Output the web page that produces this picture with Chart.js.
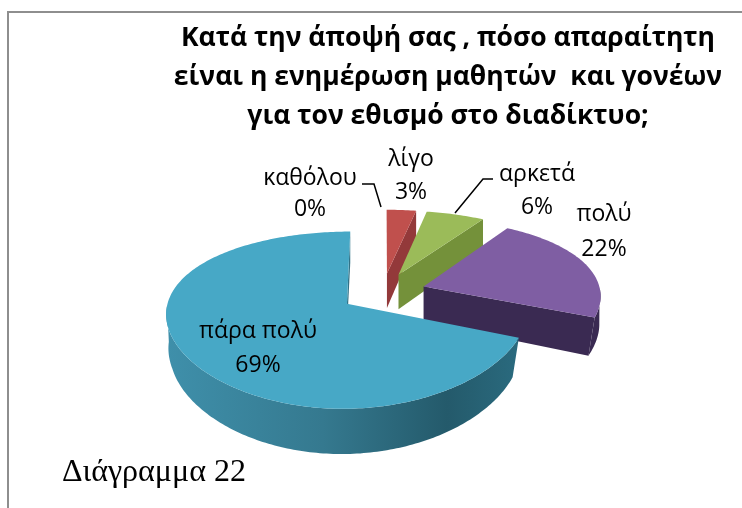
<!DOCTYPE html>
<html>
<head>
  <title>Διάγραμμα 22</title>
  <script src="https://cdn.jsdelivr.net/npm/chart.js"></script>
  <style>
    body { margin: 0; background: #fff; }
    #chart-container { position: absolute; left: 0; top: 0; width: 742px; height: 508px; }
    #frame { position: absolute; left: 7px; top: 11px; right: 0; bottom: 0; border-left: 2px solid #8e8e8e; border-top: 2px solid #8e8e8e; }
    #caption { position: absolute; left: 62px; top: 452px; font: 32px "Liberation Serif", serif; color: #000; }
  </style>
</head>
<body>
  <div id="frame"></div>
  <div id="chart-container"><canvas id="myChart" width="742" height="508"></canvas></div>
  <div id="caption">Διάγραμμα 22</div>
  <script>
    const categories = ['καθόλου', 'λίγο', 'αρκετά', 'πολύ', 'πάρα πολύ'];
    const values = [0, 3, 6, 22, 69];
    const titleLines = ['Κατά την άποψή σας , πόσο απαραίτητη', 'είναι η ενημέρωση μαθητών  και γονέων', 'για τον εθισμό στο διαδίκτυο;'];
    const topColors = ['#7f7f7f', '#c0504d', '#9bbb59', '#7f5ea3', '#47a8c6'];
    const sideColors = ['#7f7f7f', '#93393a', '#74913a', '#3a2a52', '#2f7387'];
    const labelPos = [[310, 178, 209], [411, 159, 192], [537, 174, 207], [604, 214, 249], [258, 331, 365]];

    // fake 3D: the arcs come from chart.js, only the projection is ours
    const perspX = 0.1, perspY = 0.18, tilt = 0.46, depth = 36, shrink = 0.028, vanishX = 295;

    function project(arc, u, w, drop) {
      const sx = 1 / (1 + perspX * w), sy = 1 / (1 + perspY * w);
      let x = arc.x + arc.outerRadius * u * sx;
      // the near part of the lower face pulls in towards the vanishing point
      const near = Math.min(1, Math.max(0, 0.15 - 2 * w));
      x += (vanishX - x) * shrink * near * drop / depth;
      return {
        x: x,
        y: arc.y - tilt * arc.outerRadius * w * sy + drop * sy
      };
    }

    function slicePoints(arc) {
      const mid = (arc.startAngle + arc.endAngle) / 2;
      const off = arc.options.offset / arc.outerRadius;
      const u0 = off * Math.cos(mid), w0 = -off * Math.sin(mid);
      const rim = [], front = [];
      const n = Math.max(2, Math.ceil((arc.endAngle - arc.startAngle) / (Math.PI / 180)));
      for (let i = 0; i <= n; i++) {
        const a = arc.startAngle + (arc.endAngle - arc.startAngle) * i / n;
        const p = [u0 + Math.cos(a), w0 - Math.sin(a)];
        rim.push(p);
        // only the near half of the rim shows a wall
        if (Math.sin(a) >= 0) front.push(p);
      }
      return { apex: [u0, w0], rim, front };
    }

    function fillPoly(ctx, pts, color) {
      ctx.beginPath();
      pts.forEach((p, i) => i ? ctx.lineTo(p.x, p.y) : ctx.moveTo(p.x, p.y));
      ctx.closePath();
      ctx.fillStyle = color;
      ctx.fill();
    }

    const pie3d = {
      id: 'pie3d',
      afterLayout(chart) {
        // title sits further right than the pie
        chart.titleBlock.left = 154;
        chart.titleBlock.right = 742;
      },
      beforeDatasetsDraw(chart) {
        const ctx = chart.ctx;
        chart.getDatasetMeta(0).data.forEach((arc, idx) => {
          if (!values[idx]) return;
          const { apex, rim, front } = slicePoints(arc);
          const last = rim[rim.length - 1];
          let side = sideColors[idx];
          if (idx === 4) {
            const grad = ctx.createLinearGradient(arc.x - 220, 0, arc.x + 135, 0);
            grad.addColorStop(0, '#3f90ab');
            grad.addColorStop(0.45, '#35798f');
            grad.addColorStop(0.8, '#245a6b');
            grad.addColorStop(1, '#2a6a7e');
            side = grad;
          }
          // outer wall, then the cut face of the end edge
          if (front.length) {
            fillPoly(ctx, front.map(p => project(arc, p[0], p[1], 0))
              .concat(front.slice().reverse().map(p => project(arc, p[0], p[1], depth))), side);
          }
          fillPoly(ctx, [
            project(arc, last[0], last[1], 0),
            project(arc, apex[0], apex[1], 0),
            project(arc, apex[0], apex[1], depth),
            project(arc, last[0], last[1], depth)
          ], side);
          fillPoly(ctx, [apex].concat(rim).map(p => project(arc, p[0], p[1], 0)), topColors[idx]);
        });
        return false;
      },
      afterDraw(chart) {
        const ctx = chart.ctx;
        ctx.save();
        ctx.fillStyle = '#000';
        ctx.font = '23px "Open Sans"';
        ctx.textAlign = 'center';
        ctx.textBaseline = 'middle';
        categories.forEach((c, i) => {
          ctx.fillText(c, labelPos[i][0], labelPos[i][1]);
          ctx.fillText(values[i] + '%', labelPos[i][0], labelPos[i][2]);
        });
        // leader lines
        ctx.strokeStyle = '#000';
        ctx.lineWidth = 1.5;
        ctx.beginPath();
        ctx.moveTo(362, 184); ctx.lineTo(374, 184); ctx.lineTo(381, 207);
        ctx.moveTo(493, 179); ctx.lineTo(483, 179); ctx.lineTo(455, 213);
        ctx.stroke();
        ctx.restore();
      }
    };

    new Chart(document.getElementById('myChart'), {
      type: 'pie',
      data: {
        labels: categories,
        datasets: [{
          data: values,
          backgroundColor: topColors,
          borderWidth: 0,
          offset: 43,
          radius: 177
        }]
      },
      options: {
        responsive: false,
        animation: false,
        layout: { padding: { left: 24, right: 0, top: 19, bottom: 59 } },
        plugins: {
          legend: { display: false },
          tooltip: { enabled: false },
          title: {
            display: true,
            text: titleLines,
            color: '#000',
            font: { family: '"Open Sans"', size: 26.5, weight: 'bold', lineHeight: 1.47 },
            padding: { top: 0, bottom: 0 }
          }
        }
      },
      plugins: [pie3d]
    });
  </script>
</body>
</html>
